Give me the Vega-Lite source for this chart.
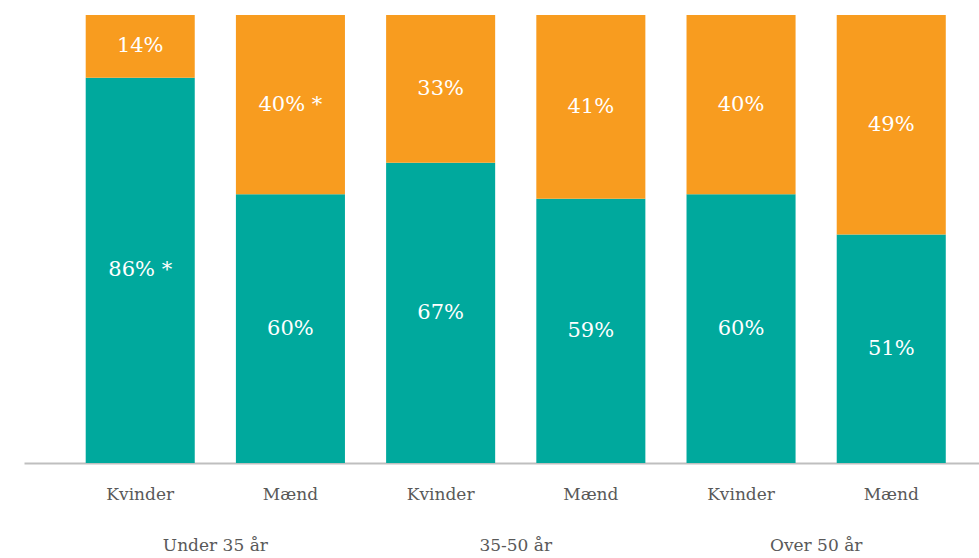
{
  "$schema": "https://vega.github.io/schema/vega-lite/v6.json",
  "width": 955,
  "height": 448,
  "autosize": "none",
  "padding": {"left": 24, "top": 15, "right": 0, "bottom": 95},
  "config": {"view": {"stroke": null}, "font": "DejaVu Serif"},
  "data": {
    "values": [
      {"gruppe": "Under 35 år", "koen": "Kvinder", "serie": "A", "orden": 1, "value": 86, "note": "*"},
      {"gruppe": "Under 35 år", "koen": "Kvinder", "serie": "B", "orden": 2, "value": 14, "note": ""},
      {"gruppe": "Under 35 år", "koen": "Mænd", "serie": "A", "orden": 1, "value": 60, "note": ""},
      {"gruppe": "Under 35 år", "koen": "Mænd", "serie": "B", "orden": 2, "value": 40, "note": "*"},
      {"gruppe": "35-50 år", "koen": "Kvinder", "serie": "A", "orden": 1, "value": 67, "note": ""},
      {"gruppe": "35-50 år", "koen": "Kvinder", "serie": "B", "orden": 2, "value": 33, "note": ""},
      {"gruppe": "35-50 år", "koen": "Mænd", "serie": "A", "orden": 1, "value": 59, "note": ""},
      {"gruppe": "35-50 år", "koen": "Mænd", "serie": "B", "orden": 2, "value": 41, "note": ""},
      {"gruppe": "Over 50 år", "koen": "Kvinder", "serie": "A", "orden": 1, "value": 60, "note": ""},
      {"gruppe": "Over 50 år", "koen": "Kvinder", "serie": "B", "orden": 2, "value": 40, "note": ""},
      {"gruppe": "Over 50 år", "koen": "Mænd", "serie": "A", "orden": 1, "value": 51, "note": ""},
      {"gruppe": "Over 50 år", "koen": "Mænd", "serie": "B", "orden": 2, "value": 49, "note": ""}
    ]
  },
  "transform": [
    {"calculate": "datum.gruppe + '|' + datum.koen", "as": "key"},
    {"stack": "value", "groupby": ["key"], "sort": [{"field": "orden", "order": "ascending"}], "as": ["v0", "v1"]},
    {"calculate": "(datum.v0 + datum.v1) / 2", "as": "mid"},
    {"calculate": "datum.value + '%' + (datum.note ? ' *' : '')", "as": "label"}
  ],
  "encoding": {
    "x": {
      "field": "key",
      "type": "nominal",
      "sort": null,
      "scale": {"paddingInner": 0.274, "paddingOuter": 0.316, "align": 0.65},
      "axis": {
        "title": null,
        "labelAngle": 0,
        "labelExpr": "split(datum.label, '|')[1]",
        "labelFont": "DejaVu Serif",
        "labelFontSize": 17,
        "labelColor": "#595959",
        "labelPadding": 23,
        "ticks": false,
        "tickSize": 0,
        "domainColor": "#bfbfbf",
        "domainWidth": 2
      }
    }
  },
  "layer": [
    {
      "mark": {"type": "bar"},
      "encoding": {
        "y": {"field": "v0", "type": "quantitative", "scale": {"domain": [0, 100]}, "axis": null},
        "y2": {"field": "v1"},
        "color": {"field": "serie", "type": "nominal", "scale": {"domain": ["A", "B"], "range": ["#00a99d", "#f89c1f"]}, "legend": null}
      }
    },
    {
      "mark": {"type": "text", "font": "DejaVu Serif", "fontSize": 21, "color": "#ffffff", "baseline": "middle", "align": "center"},
      "encoding": {
        "y": {"field": "mid", "type": "quantitative"},
        "text": {"field": "label"}
      }
    },
    {
      "transform": [{"filter": "datum.koen == 'Kvinder' && datum.serie == 'A'"}],
      "mark": {"type": "text", "font": "DejaVu Serif", "fontSize": 17, "color": "#595959", "baseline": "middle", "align": "center", "y": "height", "dy": 83},
      "encoding": {
        "x": {"field": "key", "type": "nominal", "sort": null, "bandPosition": 1.189},
        "text": {"field": "gruppe"}
      }
    }
  ]
}
